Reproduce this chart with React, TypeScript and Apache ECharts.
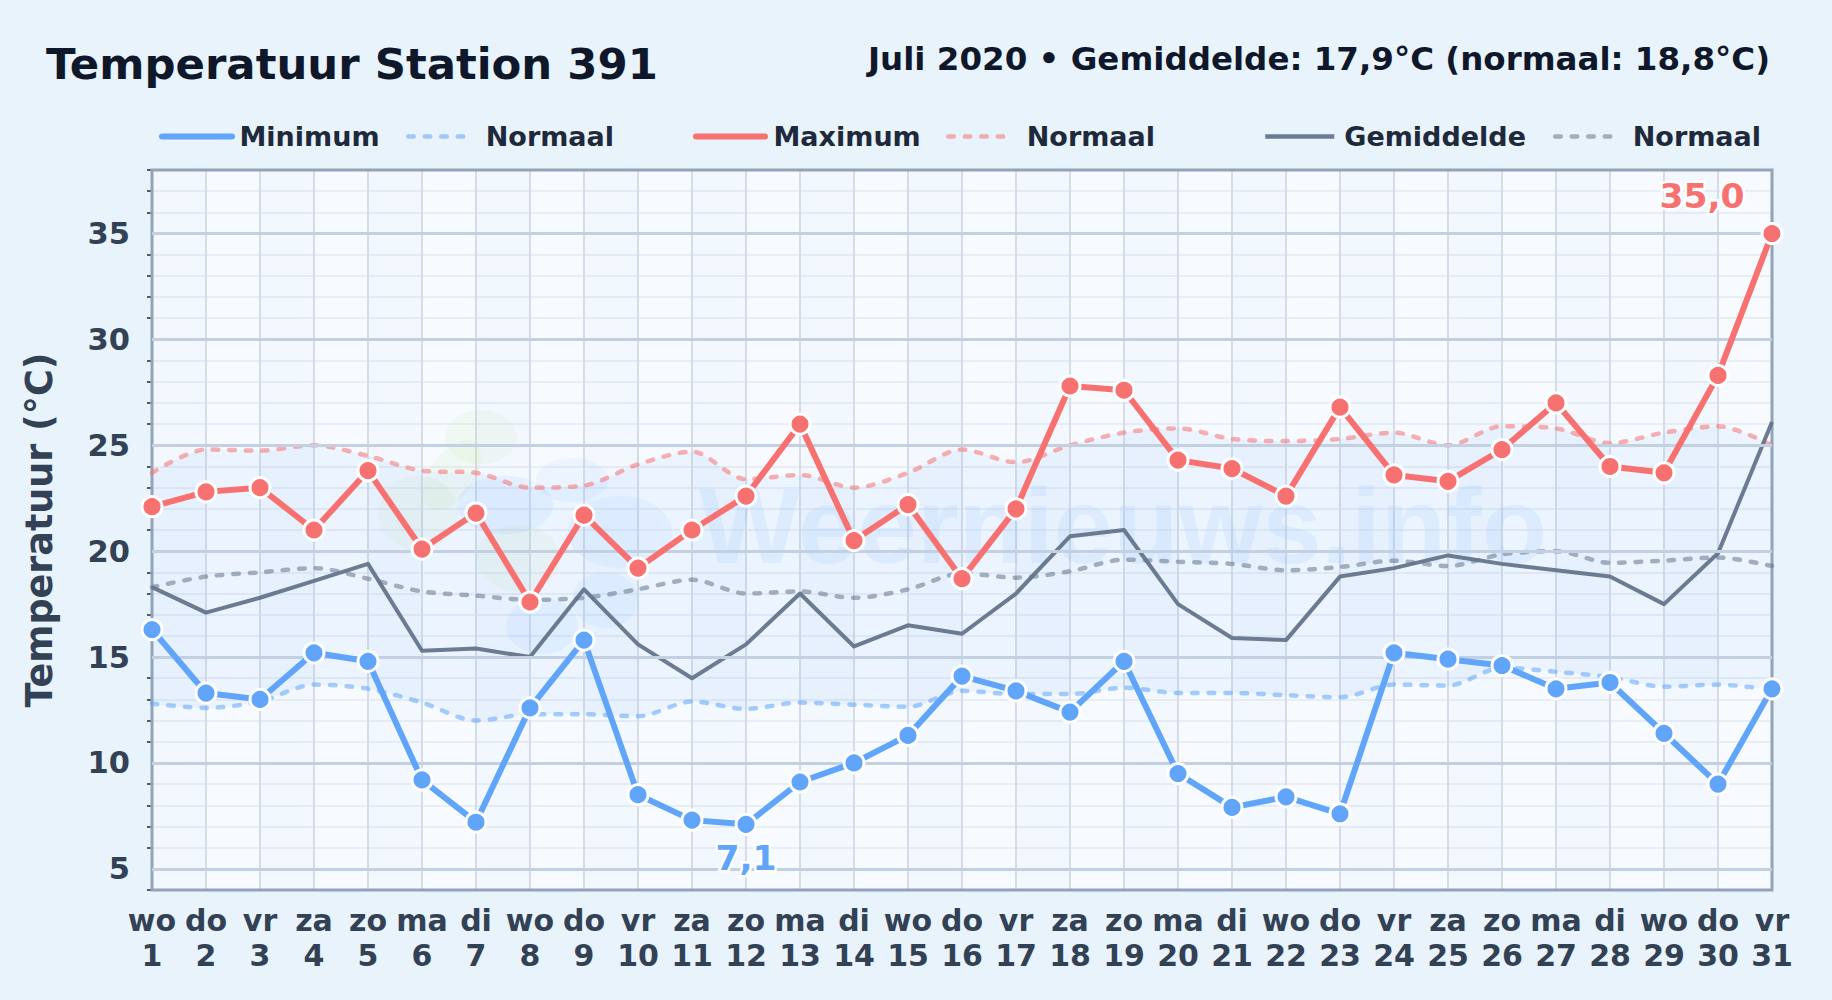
import React, { useEffect, useRef } from "react";
import * as echarts from "echarts";

const weekdays = ["wo","do","vr","za","zo","ma","di","wo","do","vr","za","zo","ma","di","wo","do","vr","za","zo","ma","di","wo","do","vr","za","zo","ma","di","wo","do","vr"];
const dates = ["1","2","3","4","5","6","7","8","9","10","11","12","13","14","15","16","17","18","19","20","21","22","23","24","25","26","27","28","29","30","31"];
const categories = weekdays.map((d, i) => `${d}\n${dates[i]}`);

const tempMax = [22.1,22.8,23.0,21.0,23.8,20.1,21.8,17.6,21.7,19.2,21.0,22.6,26.0,20.5,22.2,18.7,22.0,27.8,27.6,24.3,23.9,22.6,26.8,23.6,23.3,24.8,27.0,24.0,23.7,28.3,35.0];
const tempMin = [16.3,13.3,13.0,15.2,14.8,9.2,7.2,12.6,15.8,8.5,7.3,7.1,9.1,10.0,11.3,14.1,13.4,12.4,14.8,9.5,7.9,8.4,7.6,15.2,14.9,14.6,13.5,13.8,11.4,9.0,13.5];
const tempAvg = [18.3,17.1,17.8,18.6,19.4,15.3,15.4,15.0,18.2,15.6,14.0,15.6,18.0,15.5,16.5,16.1,18.0,20.7,21.0,17.5,15.9,15.8,18.8,19.2,19.8,19.4,19.1,18.8,17.5,19.9,26.1];
const normalMax = [23.7,24.8,24.75,25.0,24.5,23.8,23.7,23.0,23.1,24.1,24.7,23.4,23.6,23.0,23.7,24.8,24.2,25.0,25.6,25.8,25.3,25.2,25.3,25.6,25.0,25.9,25.8,25.1,25.6,25.9,25.0];
const normalMin = [12.8,12.6,12.9,13.7,13.5,12.85,12.0,12.3,12.3,12.2,12.9,12.55,12.85,12.75,12.65,13.4,13.25,13.25,13.55,13.3,13.3,13.2,13.1,13.7,13.65,14.5,14.3,14.05,13.6,13.7,13.45];
const normalAvg = [18.3,18.8,19.0,19.2,18.7,18.1,17.9,17.7,17.8,18.2,18.65,18.0,18.1,17.8,18.2,18.95,18.75,19.05,19.6,19.5,19.4,19.1,19.25,19.55,19.3,19.85,20.0,19.45,19.55,19.7,19.3];

const majorTicks = [5,10,15,20,25,30,35];
const minorTicks = [4,6,7,8,9,11,12,13,14,16,17,18,19,21,22,23,24,26,27,28,29,31,32,33,34,36,37,38];

const FONT = "'DejaVu Sans'";
const BLUE = "#60a5fa";
const RED = "#f87171";
const SLATE = "#64748b";
const DASH = [5.5, 11];

const legendLayout = [
  { name: "Minimum", left: 159, width: 70, gap: 2.5, line: 6 },
  { name: "Normaal ", left: 406, width: 59, gap: 13.5, line: 4.5 },
  { name: "Maximum", left: 693, width: 69, gap: 3.5, line: 6 },
  { name: "Normaal  ", left: 946, width: 60, gap: 13.5, line: 4.5 },
  { name: "Gemiddelde", left: 1263, width: 69, gap: 5, line: 4.5 },
  { name: "Normaal   ", left: 1553, width: 65, gap: 7.5, line: 4.5 },
];

const logoBlobs = [
  { cx: 481, cy: 437, rx: 36, ry: 27, c: "rgba(190,230,150,0.10)" },
  { cx: 452, cy: 475, rx: 22, ry: 40, c: "rgba(190,230,150,0.10)", rot: -0.6 },
  { cx: 418, cy: 513, rx: 40, ry: 37, c: "rgba(190,230,150,0.10)" },
  { cx: 518, cy: 558, rx: 42, ry: 33, c: "rgba(190,230,150,0.10)" },
  { cx: 505, cy: 505, rx: 48, ry: 29, c: "rgba(96,165,250,0.09)" },
  { cx: 572, cy: 480, rx: 36, ry: 22, c: "rgba(96,165,250,0.07)" },
  { cx: 620, cy: 532, rx: 52, ry: 36, c: "rgba(96,165,250,0.07)" },
  { cx: 542, cy: 626, rx: 36, ry: 28, c: "rgba(96,165,250,0.09)" },
  { cx: 605, cy: 600, rx: 33, ry: 28, c: "rgba(96,165,250,0.07)" },
];

function markerSeries(name: string, data: number[], color: string, labelIndex: number, labelText: string, offset: number[]) {
  return {
    name,
    type: "line",
    z: 5,
    data: data.map((v, i) =>
      i === labelIndex
        ? {
            value: v,
            label: {
              show: true,
              formatter: labelText,
              position: "inside",
              offset,
              color,
              fontFamily: FONT,
              fontWeight: "bold",
              fontSize: 34.5,
              textBorderColor: "#ffffff",
              textBorderWidth: 5,
            },
          }
        : v
    ),
    symbol: "circle",
    symbolSize: 20,
    showSymbol: true,
    showAllSymbol: true,
    itemStyle: { color, borderColor: "#ffffff", borderWidth: 3 },
    lineStyle: { color, width: 6, cap: "round", join: "round" },
  };
}

function normalSeries(name: string, data: number[], color: string) {
  return {
    name,
    type: "line",
    z: 3,
    data,
    smooth: 0.3,
    symbol: "none",
    lineStyle: { color, width: 4.5, type: DASH, cap: "round", opacity: 0.55 },
  };
}

export default function App() {
  const ref = useRef<HTMLDivElement>(null);
  useEffect(() => {
    document.body.style.margin = "0";
    const chart = echarts.init(ref.current!, null, { renderer: "svg" });
    chart.setOption({
      animation: false,
      backgroundColor: "#e8f3fc",
      textStyle: { fontFamily: FONT },
      title: [
        { text: "Temperatuur Station 391", left: 41, top: 37, textStyle: { fontFamily: FONT, fontWeight: "bold", fontSize: 43.4, color: "#0f172a" } },
        { text: "Juli 2020 • Gemiddelde: 17,9°C (normaal: 18,8°C)", right: 57, top: 37, textStyle: { fontFamily: FONT, fontWeight: "bold", fontSize: 32.5, color: "#0f172a" } },
      ],
      legend: legendLayout.map((l) => ({
        data: [l.name],
        left: l.left,
        top: 123,
        padding: 0,
        itemWidth: l.width,
        itemHeight: 30,
        selectedMode: false,
        formatter: (n: string) => n.trim(),
        itemStyle: { opacity: 0 },
        lineStyle: { width: l.line },
        textStyle: { fontFamily: FONT, fontWeight: "bold", fontSize: 27, color: "#1e293b", padding: [0, 0, 0, l.gap] },
      })),
      grid: { left: 152, right: 60, top: 170, bottom: 110, outerBoundsMode: "none", show: true, backgroundColor: "#f6faff", borderWidth: 0 },
      xAxis: {
        type: "category",
        boundaryGap: false,
        data: categories,
        axisLine: { show: false },
        axisTick: { show: false },
        axisLabel: { interval: 0, margin: 13, fontFamily: FONT, fontWeight: "bold", fontSize: 30, lineHeight: 35, color: "#334155" },
        splitLine: { show: true, interval: 0, lineStyle: { color: "#d5dce9", width: 2 } },
        splitArea: { show: true, interval: 0, areaStyle: { color: ["rgba(226,236,250,0.18)", "rgba(255,255,255,0.18)"] } },
      },
      yAxis: {
        type: "value",
        min: 4,
        max: 38,
        interval: 1,
        name: "Temperatuur (°C)",
        nameLocation: "middle",
        nameGap: 94,
        nameTextStyle: { fontFamily: FONT, fontWeight: "bold", fontSize: 36.5, color: "#334155" },
        axisLine: { show: false },
        axisTick: { show: true, length: 5, customValues: minorTicks, lineStyle: { color: "#1e293b", width: 1.5 } },
        axisLabel: {
          margin: 22,
          fontFamily: FONT,
          fontWeight: "bold",
          fontSize: 30.5,
          color: "#334155",
          formatter: (v: number) => (majorTicks.includes(v) ? String(v) : ""),
        },
        splitLine: { show: true, lineStyle: { color: "#e5ebf3", width: 2 } },
      },
      graphic: [
        ...logoBlobs.map((b) => ({
          type: "ellipse",
          z: 1,
          silent: true,
          x: b.cx,
          y: b.cy,
          rotation: b.rot || 0,
          shape: { cx: 0, cy: 0, rx: b.rx, ry: b.ry },
          style: { fill: b.c },
        })),
        {
          type: "text",
          z: 1,
          silent: true,
          x: 699,
          y: 526,
          style: { text: "Weernieuws.info", fontFamily: "'Liberation Sans'", fontWeight: "bold", fontSize: 107, fill: "rgba(96,165,250,0.10)", verticalAlign: "middle" },
        },
        {
          type: "rect",
          z: 1,
          silent: true,
          shape: { x: 152, y: 170, width: 1620, height: 720 },
          style: { fill: "none", stroke: "#94a3b8", lineWidth: 3 },
        },
      ],
      series: [
        {
          name: "Normaalband basis",
          type: "line",
          z: 1,
          stack: "band",
          data: normalMin,
          smooth: 0.3,
          symbol: "none",
          lineStyle: { width: 0 },
          markLine: {
            silent: true,
            symbol: "none",
            label: { show: false },
            lineStyle: { color: "#c3d0e1", width: 3, type: "solid" },
            data: majorTicks.map((v) => ({ yAxis: v })),
          },
        },
        {
          name: "Normaalband",
          type: "line",
          z: 1,
          stack: "band",
          data: normalMax.map((v, i) => +(v - normalMin[i]).toFixed(2)),
          smooth: 0.3,
          symbol: "none",
          lineStyle: { width: 0 },
          areaStyle: { color: "rgba(96,165,250,0.11)" },
        },
        normalSeries("Normaal ", normalMin, BLUE),
        normalSeries("Normaal  ", normalMax, RED),
        normalSeries("Normaal   ", normalAvg, SLATE),
        { name: "Gemiddelde", type: "line", z: 4, data: tempAvg, symbol: "none", lineStyle: { color: SLATE, width: 4, join: "round", opacity: 0.95 } },
        markerSeries("Minimum", tempMin, BLUE, 11, "7,1", [0, 34]),
        markerSeries("Maximum", tempMax, RED, 30, "35,0", [-70, -38]),
      ],
    });
    return () => chart.dispose();
  }, []);
  return <div ref={ref} style={{ width: 1832, height: 1000 }} />;
}
